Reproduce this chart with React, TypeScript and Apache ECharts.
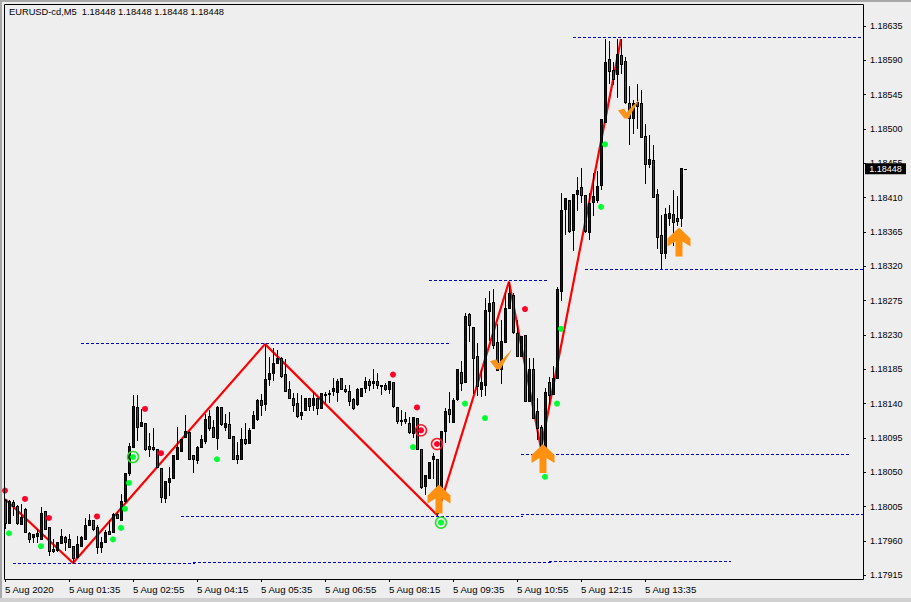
import React, { useEffect, useRef } from "react";
import * as echarts from "echarts";

// Prices are stored as points: price = 1 + points / 100000
const opens = [
  18013,17983,18011,18006,17982,18002,17970,17965,17966,17963,
  17999,17978,17949,17948,17957,17965,17963,17953,17939,17953,
  17962,17981,17987,17978,17952,17958,17973,17971,17995,17987,
  18012,18049,18083,18135,18110,18114,18084,18083,18081,18055,
  18016,18037,18043,18067,18078,18096,18103,18072,18066,18083,
  18091,18124,18109,18095,18135,18109,18113,18097,18072,18068,
  18093,18088,18108,18120,18145,18139,18172,18180,18193,18200,
  18179,18159,18148,18141,18125,18131,18148,18138,18148,18134,
  18151,18152,18156,18155,18173,18159,18156,18146,18139,18150,
  18160,18169,18167,18169,18164,18165,18159,18168,18136,18118,
  18120,18114,18101,18121,18081,18032,18043,18067,18068,18030,
  18104,18133,18116,18146,18182,18168,18257,18241,18203,18159,
  18164,18261,18273,18221,18186,18221,18266,18282,18232,18203,
  18230,18143,18186,18130,18109,18083,18168,18153,18173,18287,
  18395,18407,18367,18415,18424,18413,18365,18405,18407,18426,
  18509,18592,18577,18572,18597,18589,18534,18514,18535,18534,
  18491,18454,18459,18415,18361,18337,18384,18388,18383,18383,18448,
];
const closes = [
  17983,18012,18006,17983,17991,17971,17963,17969,17970,17996,
  17976,17947,17947,17959,17966,17959,17952,17937,17956,17965,
  17981,17987,17975,17952,17958,17971,17969,17995,17990,18012,
  18049,18084,18137,18109,18116,18080,18081,18081,18057,18017,
  18038,18043,18072,18083,18093,18104,18068,18067,18083,18093,
  18120,18108,18096,18135,18113,18114,18095,18068,18068,18093,
  18088,18106,18125,18145,18138,18172,18180,18193,18200,18176,
  18156,18148,18138,18124,18129,18148,18137,18147,18134,18154,
  18152,18154,18160,18169,18159,18156,18143,18134,18159,18160,
  18169,18164,18169,18164,18163,18159,18169,18137,18117,18117,
  18117,18103,18122,18081,18030,18046,18063,18071,17996,18104,
  18130,18127,18145,18185,18167,18255,18243,18200,18163,18168,
  18263,18272,18217,18184,18222,18266,18285,18234,18202,18228,
  18143,18186,18121,18108,18081,18155,18151,18173,18290,18394,
  18409,18366,18415,18420,18413,18366,18403,18412,18425,18513,
  18588,18576,18565,18598,18585,18535,18514,18534,18530,18489,
  18454,18461,18411,18358,18337,18388,18390,18378,18380,18449,18448,
];
const highs = [
  18015,18013,18013,18007,18009,18003,17971,17969,17976,18004,
  17999,17978,17963,17959,17975,17966,17969,17953,17966,17967,
  17990,17995,17987,17981,17965,17974,17987,17996,17998,18021,
  18049,18088,18151,18151,18133,18114,18101,18108,18081,18055,
  18038,18057,18072,18109,18093,18125,18104,18072,18084,18099,
  18127,18131,18118,18137,18135,18127,18129,18097,18089,18108,
  18114,18108,18130,18146,18152,18218,18201,18213,18210,18201,
  18198,18169,18154,18154,18151,18148,18148,18155,18148,18154,
  18155,18158,18173,18172,18173,18165,18165,18147,18160,18160,
  18175,18172,18185,18180,18165,18167,18169,18168,18136,18131,
  18129,18122,18122,18121,18081,18046,18063,18075,18068,18104,
  18134,18155,18147,18186,18196,18259,18259,18241,18219,18184,
  18278,18287,18290,18245,18249,18285,18300,18285,18249,18228,
  18230,18200,18200,18147,18112,18160,18175,18189,18293,18416,
  18409,18407,18415,18437,18449,18413,18416,18443,18445,18513,
  18618,18615,18588,18618,18618,18594,18556,18538,18559,18551,
  18506,18492,18479,18421,18387,18397,18400,18420,18412,18449,18448,
];
const lows = [
  17977,17983,17994,17982,17982,17971,17959,17959,17959,17963,
  17976,17941,17945,17947,17957,17948,17952,17931,17939,17953,
  17962,17981,17974,17944,17945,17958,17969,17971,17990,17987,
  18011,18046,18083,18092,18110,18079,18071,18079,18057,18011,
  18011,18020,18043,18067,18078,18096,18067,18050,18062,18083,
  18088,18106,18096,18081,18112,18105,18095,18068,18062,18068,
  18087,18088,18108,18118,18125,18131,18164,18171,18193,18175,
  18156,18148,18130,18122,18120,18131,18131,18131,18126,18134,
  18142,18142,18151,18143,18159,18155,18138,18133,18138,18150,
  18155,18158,18160,18160,18152,18158,18154,18136,18114,18112,
  18114,18101,18096,18081,18029,18022,18043,18043,17994,18030,
  18089,18116,18116,18145,18158,18168,18222,18154,18151,18150,
  18151,18223,18213,18184,18167,18221,18266,18232,18202,18203,
  18143,18143,18121,18093,18081,18083,18140,18153,18173,18276,
  18363,18365,18341,18394,18404,18365,18356,18387,18405,18422,
  18509,18560,18559,18542,18573,18534,18481,18495,18501,18489,
  18429,18450,18411,18344,18316,18331,18374,18348,18374,18373,18448,
];

const barCount = 215;
const timeLabels = [
  "5 Aug 2020","5 Aug 01:35","5 Aug 02:55","5 Aug 04:15","5 Aug 05:35","5 Aug 06:55",
  "5 Aug 08:15","5 Aug 09:35","5 Aug 10:55","5 Aug 12:15","5 Aug 13:35",
];
const priceTicks = [
  1.18635,1.1859,1.18545,1.185,1.18455,1.1841,1.18365,1.1832,1.18275,1.1823,
  1.18185,1.1814,1.18095,1.1805,1.18005,1.1796,1.17915,
];

const zigzagBars = [0, 17, 65, 108, 126, 134, 154];
const zigzagPoints = [18015, 17931, 18218, 17994, 18300, 18081, 18618];

// [first bar, last bar, points]
const levelLines = [
  [142, 214, 18621],
  [145, 214, 18316],
  [106, 135, 18302],
  [19, 111, 18219],
  [129, 211, 18074],
  [44, 129, 17993],
  [129, 214, 17995],
  [2, 47, 17931],
  [47, 136, 17932],
  [136, 181, 17933],
];

const redDots = [[0,18026],[5,18015],[11,17990],[23,17992],[35,18133],[39,18075],[97,18178],[103,18135],[130,18264]];
const redTargets = [[104,18105],[108,18087]];
const greenDots = [[1,17970],[9,17953],[27,17962],[29,17977],[30,18002],[31,18036],[53,18067],[102,18083],[115,18140],[120,18121],[135,18044],[138,18140],[139,18238],[149,18398],[150,18480]];
const greenTargets = [[32,18070],[109,17984]];
const upArrows = [[108,18015],[134,18068],[168,18352]];
const checkMarks = [[124,18198],[156,18527]];

const lastPrice = 1.18448;
const titleText = "EURUSD-cd,M5  1.18448 1.18448 1.18448 1.18448";

const toPrice = (p: number) => 1 + p / 100000;
const pair = (d: number[]) => [d[0], toPrice(d[1])];

const ARROW = "path://M11.5 0 L23 11 L23 19 L15 14 L15 29 L8 29 L8 14 L0 19 L0 11 Z";
const CHECK = "path://M0 12 L6 10 L8 14 L21 0 L10 20 L6 20 Z";
const FONT = "Liberation Sans";
const BLUE = "#0000d0";
const RED = "#f00000";

function renderCandle(_: any, api: any) {
  const i = api.value(0);
  const open = api.value(1);
  const close = api.value(2);
  const x = Math.round(api.coord([i, open])[0]);
  const yO = Math.round(api.coord([i, open])[1]);
  const yC = Math.round(api.coord([i, close])[1]);
  const yL = Math.round(api.coord([i, api.value(3)])[1]);
  const yH = Math.round(api.coord([i, api.value(4)])[1]);
  const top = Math.min(yO, yC);
  const bottom = Math.max(yO, yC);
  const h = bottom - top + 1;
  const children: any[] = [
    { type: "rect", shape: { x, y: yH, width: 1, height: Math.max(yL - yH + 1, 1) }, style: { fill: "#000" } },
    { type: "rect", shape: { x: x - 1, y: top, width: 3, height: h }, style: { fill: "#000" } },
  ];
  if (h > 2) {
    children.push({
      type: "rect",
      shape: { x, y: top + 1, width: 1, height: h - 2 },
      style: { fill: close > open ? BLUE : RED },
    });
  }
  return { type: "group", children };
}

function renderLevel(_: any, api: any) {
  const a = api.coord([api.value(0), api.value(2)]);
  const b = api.coord([api.value(1), api.value(2)]);
  const y = Math.round(a[1]) + 0.5;
  return {
    type: "line",
    shape: { x1: a[0], y1: y, x2: b[0] + 2, y2: y },
    style: { stroke: "#0000c8", lineWidth: 1, lineDash: [3, 2] },
  };
}

export default function App() {
  const ref = useRef<HTMLDivElement>(null);
  useEffect(() => {
    const chart = echarts.init(ref.current!, undefined, { renderer: "svg" });
    const categories = Array.from({ length: barCount }, (_, i) => String(i));
    const candles = opens.map((o, i) => [i, toPrice(o), toPrice(closes[i]), toPrice(lows[i]), toPrice(highs[i])]);
    const levels = levelLines.map((l) => [l[0], l[1], toPrice(l[2])]);

    const option: any = {
      animation: false,
      backgroundColor: "#eeeeee",
      textStyle: { fontFamily: FONT },
      title: {
        text: titleText,
        left: 9,
        top: 7,
        padding: 0,
        textStyle: { fontFamily: FONT, fontSize: 9.3, fontWeight: "normal", color: "#000" },
      },
      grid: { left: 3, top: 4, width: 860, height: 575, containLabel: false },
      xAxis: {
        type: "category",
        data: categories,
        boundaryGap: true,
        axisLine: { show: false },
        splitLine: { show: false },
        axisTick: {
          show: true,
          length: 3,
          alignWithLabel: true,
          interval: (i: number) => i % 16 === 0 && i <= 160,
          lineStyle: { color: "#000" },
        },
        axisLabel: {
          show: true,
          interval: (i: number) => i % 16 === 0 && i <= 160,
          formatter: (_: string, i: number) => timeLabels[i / 16] ?? "",
          align: "left",
          color: "#000",
          fontFamily: FONT,
          fontSize: 9.6,
          margin: 5,
          hideOverlap: false,
        },
      },
      yAxis: {
        type: "value",
        position: "right",
        min: 1.1791,
        max: 1.18664,
        scale: true,
        splitLine: { show: false },
        axisLine: { show: false },
        axisTick: { show: true, length: 3, customValues: priceTicks, lineStyle: { color: "#000" } },
        axisLabel: {
          show: true,
          customValues: priceTicks,
          formatter: (v: number) => v.toFixed(5),
          color: "#000",
          fontFamily: FONT,
          fontSize: 9,
          margin: 7,
        },
      },
      series: [
        {
          type: "custom",
          z: 1,
          silent: true,
          renderItem: renderLevel,
          encode: { x: [0, 1], y: 2 },
          data: levels,
        },
        {
          type: "line",
          z: 2,
          symbol: "none",
          lineStyle: { color: "#ff0000", width: 2.2 },
          data: zigzagBars.map((b, i) => [b, toPrice(zigzagPoints[i])]),
        },
        {
          type: "custom",
          z: 3,
          renderItem: renderCandle,
          encode: { x: 0, y: [1, 2, 3, 4] },
          data: candles,
        },
        {
          type: "scatter",
          z: 4,
          symbolSize: 6,
          itemStyle: { color: "#ff0028", opacity: 1 },
          data: [...redDots, ...redTargets].map(pair),
        },
        {
          type: "scatter",
          z: 4,
          symbolSize: 6,
          itemStyle: { color: "#00ff30", opacity: 1 },
          data: [...greenDots, ...greenTargets].map(pair),
        },
        {
          type: "scatter",
          z: 4,
          symbolSize: 11,
          itemStyle: { color: "rgba(0,0,0,0)", borderColor: "#ff1a2a", borderWidth: 1.5, opacity: 1 },
          data: redTargets.map(pair),
        },
        {
          type: "scatter",
          z: 4,
          symbolSize: 11,
          itemStyle: { color: "rgba(0,0,0,0)", borderColor: "#28e028", borderWidth: 1.5, opacity: 1 },
          data: greenTargets.map(pair),
        },
        {
          type: "scatter",
          z: 5,
          symbol: CHECK,
          symbolSize: [22, 20],
          symbolKeepAspect: false,
          itemStyle: { color: "#f7941d", opacity: 1 },
          data: checkMarks.map(pair),
        },
        {
          type: "scatter",
          z: 5,
          symbol: ARROW,
          symbolSize: [23, 29],
          symbolOffset: [2, 0],
          itemStyle: { color: "#ff9010", opacity: 1 },
          data: upArrows.map(pair),
        },
        {
          type: "scatter",
          z: 6,
          clip: false,
          symbol: "rect",
          symbolSize: [41, 11],
          symbolOffset: [24.5, 0],
          itemStyle: { color: "#000", opacity: 1 },
          label: {
            show: true,
            position: "inside",
            formatter: lastPrice.toFixed(5),
            color: "#fff",
            fontFamily: FONT,
            fontSize: 9,
          },
          data: [[214, lastPrice]],
        },
      ],
      graphic: [
        { type: "rect", silent: true, z: 0, shape: { x: 0, y: 0, width: 911, height: 2 }, style: { fill: "#a8a8a8" } },
        { type: "rect", silent: true, z: 0, shape: { x: 0, y: 0, width: 2, height: 602 }, style: { fill: "#a8a8a8" } },
        { type: "rect", silent: true, z: 0, shape: { x: 0, y: 598, width: 911, height: 4 }, style: { fill: "#d0d0d0" } },
        {
          type: "rect",
          silent: true,
          z: 10,
          shape: { x: 4.5, y: 4.5, width: 859, height: 575 },
          style: { fill: "none", stroke: "#000", lineWidth: 1 },
        },
      ],
    };
    chart.setOption(option);
    return () => chart.dispose();
  }, []);
  return (
    <div
      ref={ref}
      style={{ position: "fixed", left: 0, top: 0, width: 911, height: 602 }}
    />
  );
}
